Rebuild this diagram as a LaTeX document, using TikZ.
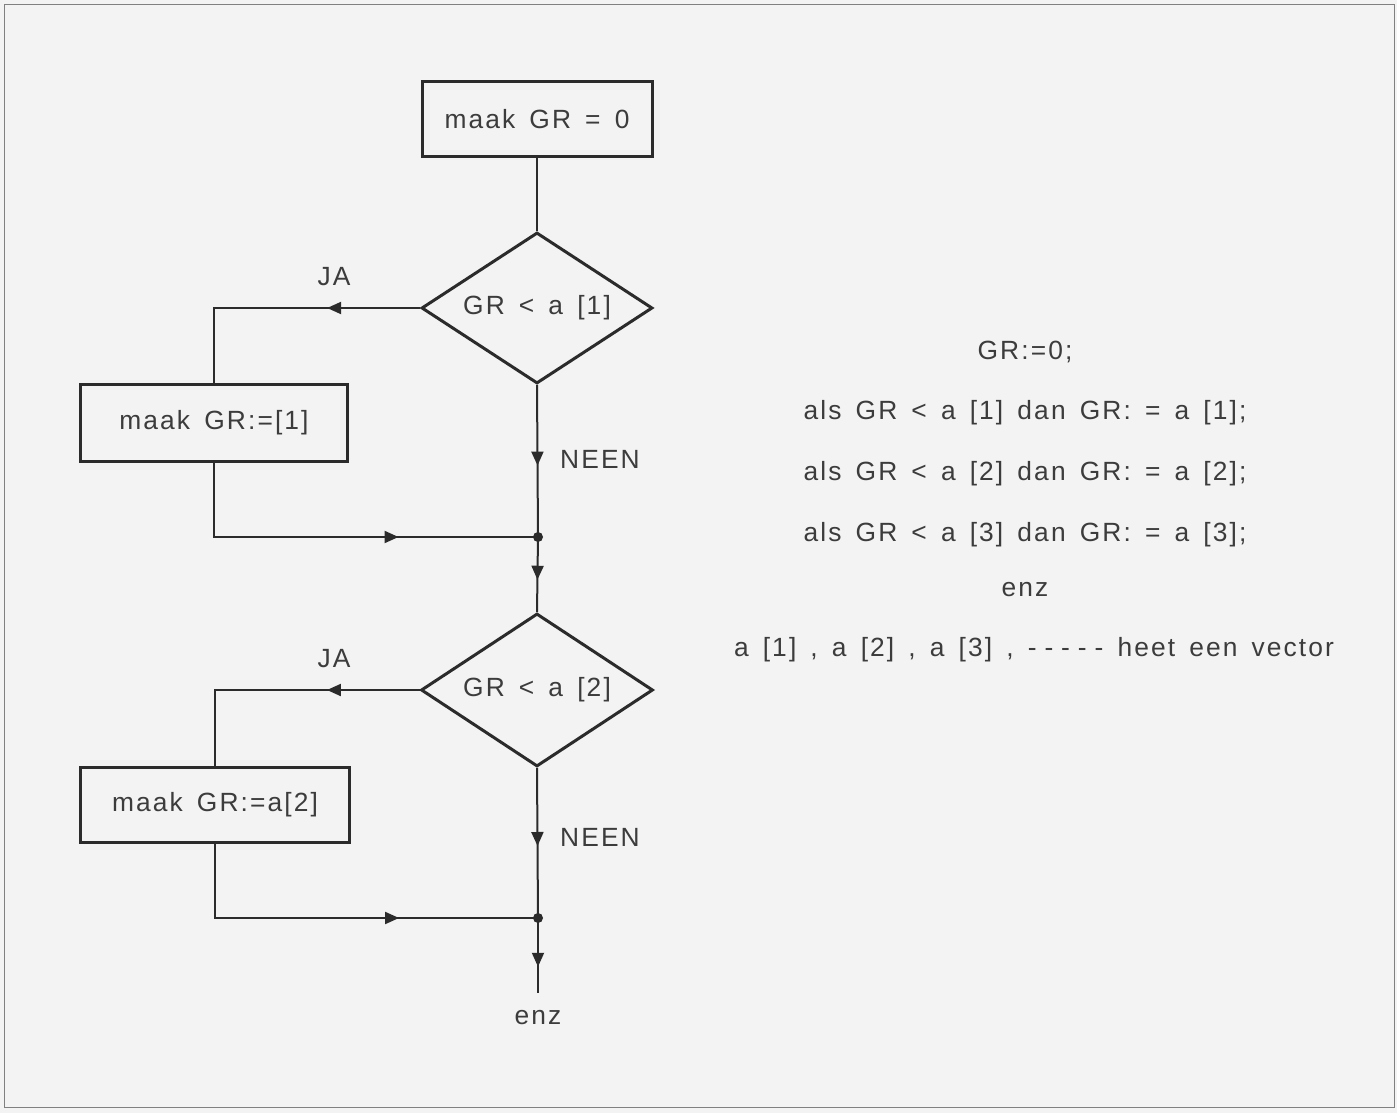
\documentclass[tikz,border=0pt]{standalone}
\usepackage{fontspec}
\setmainfont[LetterSpace=8,WordSpace=1.5]{Liberation Sans}
\usepackage{tikz}
\usetikzlibrary{arrows.meta,positioning,shapes.geometric,decorations.markings}
\definecolor{inkx}{HTML}{2B2B2B}
\definecolor{txtx}{HTML}{3C3C3C}
\definecolor{paperx}{HTML}{F3F3F3}
\newcommand{\dashgap}{\hspace{0.3em}}
\tikzset{
  proc/.style={draw=inkx,line width=0.6mm,minimum height=15mm,inner sep=0pt},
  cond/.style={diamond,aspect=1.53,draw=inkx,line width=0.6mm,inner sep=0pt},
  ln/.style={draw=inkx,line width=0.4mm},
  midtip/.style={postaction={decorate},decoration={markings,
    mark=at position #1 with {\arrow{Triangle[length=2.8mm,width=2.4mm]}}}},
  dot/.style={circle,fill=inkx,minimum size=2mm,inner sep=0pt}
}
\begin{document}
\begin{tikzpicture}[x=0.2mm,y=-0.2mm,font=\fontsize{15}{18}\selectfont,text=txtx]
\useasboundingbox (0,0) rectangle (1397,1113);
\fill[paperx] (0,0) rectangle (1397,1113);
\draw[gray,line width=0.4pt] (4,4) rectangle (1394,1107);
% flow chart
\node[proc,minimum width=46mm] (start) at (537,119) {maak GR = 0};
\node[cond,minimum width=46.2mm,minimum height=30.2mm] (test1) at (537,308) {GR < a [1]};
\node[proc,minimum width=53.4mm,minimum height=15.2mm] (set1) at (214,423) {maak GR:=[1]};
\node[dot] (join1) at (538,537) {};
\node[cond,minimum width=46.4mm,minimum height=30.6mm] (test2) at (537,690) {GR < a [2]};
\node[proc,minimum width=53.6mm] (set2) at (215,805) {maak GR:=a[2]};
\node[dot] (join2) at (538,918) {};
\coordinate (stop) at (538,993);
\node (etc) at (538,1018) {enz};
\node (ja1) at (334,277) {JA};
\node (ja2) at (334,659) {JA};
\node[anchor=west] (nee1) at (554,459) {NEEN};
\node[anchor=west] (nee2) at (554,837) {NEEN};
\draw[ln] (start) -- (test1);
\draw[ln,midtip=0.33] (test1.west) -| (set1.north);
\draw[ln,midtip=0.65] (set1.south) |- (join1.center);
\draw[ln,midtip=0.53] (test1.south) -- (join1.center);
\draw[ln,midtip=0.57] (join1.center) -- (test2.north);
\draw[ln,midtip=0.33] (test2.west) -| (set2.north);
\draw[ln,midtip=0.65] (set2.south) |- (join2.center);
\draw[ln,midtip=0.52] (test2.south) -- (join2.center);
\draw[ln,midtip=0.65] (join2.center) -- (stop);
% program text
\node (prog0) at (1025,352) {GR:=0;};
\node (prog1) at (1025,413) {als GR < a [1] dan GR: = a [1];};
\node (prog2) at (1025,474) {als GR < a [2] dan GR: = a [2];};
\node (prog3) at (1025,535) {als GR < a [3] dan GR: = a [3];};
\node (prog4) at (1025,590) {enz};
\node (prog5) at (1034,650) {a [1] , a [2] , a [3] , -\dashgap-\dashgap-\dashgap-\dashgap- heet een vector};
\end{tikzpicture}
\end{document}
